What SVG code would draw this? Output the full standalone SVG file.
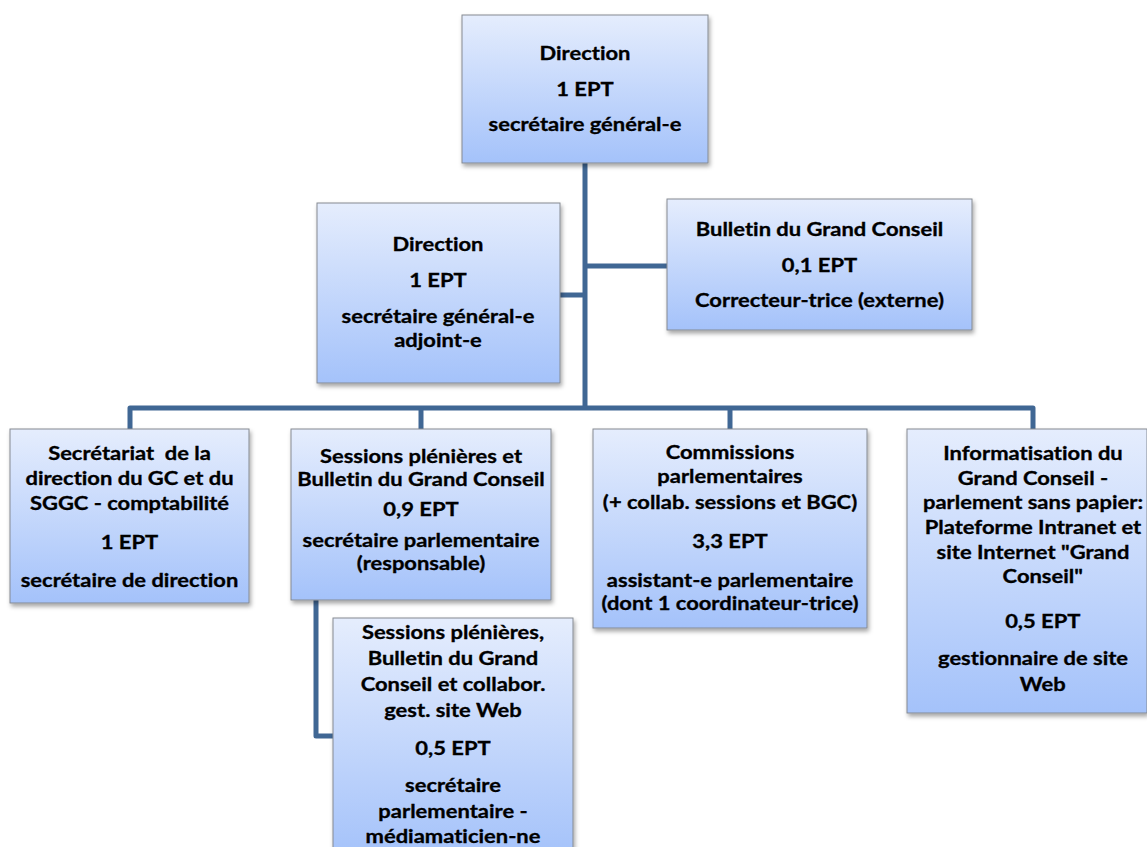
<svg xmlns="http://www.w3.org/2000/svg" width="1147" height="847" viewBox="0 0 1147 847">
<style>
.box{fill:url(#grad);stroke:#858a92;stroke-width:1;filter:url(#sh)}
.t{font-family:Lato,"Liberation Sans",sans-serif;font-weight:700;font-size:18px;fill:#000;stroke:#000;stroke-width:0.3;text-anchor:middle;white-space:pre;font-variant-ligatures:none;font-feature-settings:"liga" 0,"clig" 0}
.c{fill:none;stroke:#406794;stroke-width:5;stroke-linejoin:round}
</style>
<defs>
<linearGradient id="grad" x1="0" y1="0" x2="0" y2="1">
<stop offset="0" stop-color="#e5edfd"/>
<stop offset="1" stop-color="#a4c2fa"/>
</linearGradient>
<filter id="sh" x="-10%" y="-10%" width="120%" height="130%">
<feDropShadow dx="1.5" dy="3" stdDeviation="2" flood-color="#000" flood-opacity="0.35"/>
</filter>
</defs>
<rect width="1147" height="847" fill="#fff"/>
<g id="connectors">
<path class="c" d="M585 163 V408"/>
<path class="c" d="M585 266 H667"/>
<path class="c" d="M560 295 H585"/>
<path class="c" d="M130 429 V408 H1033 V429"/>
<path class="c" d="M421 408 V429"/>
<path class="c" d="M730 408 V429"/>
<path class="c" d="M316 600 V736 H333"/>
</g>
<g id="n-direction">
<rect class="box" x="462" y="15" width="246" height="148"/>
<g transform="translate(585,0) scale(1.22,1)">
<text class="t" x="0" y="60">Direction</text>
<text class="t" x="0" y="96">1 EPT</text>
<text class="t" x="0" y="131">secrétaire général-e</text>
</g>
</g>
<g id="n-adjoint">
<rect class="box" x="317" y="203" width="243" height="180"/>
<g transform="translate(438,0) scale(1.22,1)">
<text class="t" x="0" y="251">Direction</text>
<text class="t" x="0" y="287">1 EPT</text>
<text class="t" x="0" y="323">secrétaire général-e</text>
<text class="t" x="0" y="347">adjoint-e</text>
</g>
</g>
<g id="n-bulletin">
<rect class="box" x="667" y="199" width="305" height="131"/>
<g transform="translate(819.5,0) scale(1.22,1)">
<text class="t" x="0" y="236">Bulletin du Grand Conseil</text>
<text class="t" x="0" y="272">0,1 EPT</text>
<text class="t" x="0" y="307">Correcteur-trice (externe)</text>
</g>
</g>
<g id="n-secretariat">
<rect class="box" x="10" y="429" width="239" height="174"/>
<g transform="translate(129.5,0) scale(1.22,1)">
<text class="t" x="0" y="460" xml:space="preserve">Secrétariat  de la</text>
<text class="t" x="0" y="485">direction du GC et du</text>
<text class="t" x="0" y="510">SGGC - comptabilité</text>
<text class="t" x="0" y="549">1 EPT</text>
<text class="t" x="0" y="587">secrétaire de direction</text>
</g>
</g>
<g id="n-sessions">
<rect class="box" x="291" y="429" width="260" height="171"/>
<g transform="translate(421,0) scale(1.22,1)">
<text class="t" x="0" y="463">Sessions plénières et</text>
<text class="t" x="0" y="486">Bulletin du Grand Conseil</text>
<text class="t" x="0" y="516">0,9 EPT</text>
<text class="t" x="0" y="547">secrétaire parlementaire</text>
<text class="t" x="0" y="570">(responsable)</text>
</g>
</g>
<g id="n-commissions">
<rect class="box" x="593" y="429" width="274" height="199"/>
<g transform="translate(730,0) scale(1.22,1)">
<text class="t" x="0" y="459">Commissions</text>
<text class="t" x="0" y="483">parlementaires</text>
<text class="t" x="0" y="509">(+ collab. sessions et BGC)</text>
<text class="t" x="0" y="548">3,3 EPT</text>
<text class="t" x="0" y="587">assistant-e parlementaire</text>
<text class="t" x="0" y="610">(dont 1 coordinateur-trice)</text>
</g>
</g>
<g id="n-informatisation">
<rect class="box" x="907" y="429" width="240" height="284"/>
<g transform="translate(1033,0) scale(1.22,1)">
<text class="t" x="0" y="460">Informatisation du</text>
<text class="t" x="0" y="485">Grand Conseil -</text>
<text class="t" x="0" y="509">parlement sans papier:</text>
<text class="t" x="0" y="534">Plateforme Intranet et</text>
<text class="t" x="0" y="559">site Internet "Grand</text>
<text class="t" x="8" y="583">Conseil"</text>
<text class="t" x="8" y="628">0,5 EPT</text>
<text class="t" x="0" y="665">gestionnaire de site</text>
<text class="t" x="8" y="691">Web</text>
</g>
</g>
<g id="n-mediamaticien">
<rect class="box" x="333" y="618" width="240" height="240"/>
<g transform="translate(453,0) scale(1.22,1)">
<text class="t" x="0" y="639">Sessions plénières,</text>
<text class="t" x="0" y="665">Bulletin du Grand</text>
<text class="t" x="0" y="691">Conseil et collabor.</text>
<text class="t" x="0" y="717">gest. site Web</text>
<text class="t" x="0" y="755">0,5 EPT</text>
<text class="t" x="0" y="792">secrétaire</text>
<text class="t" x="0" y="818">parlementaire -</text>
<text class="t" x="0" y="843">médiamaticien-ne</text>
</g>
</g>
</svg>
